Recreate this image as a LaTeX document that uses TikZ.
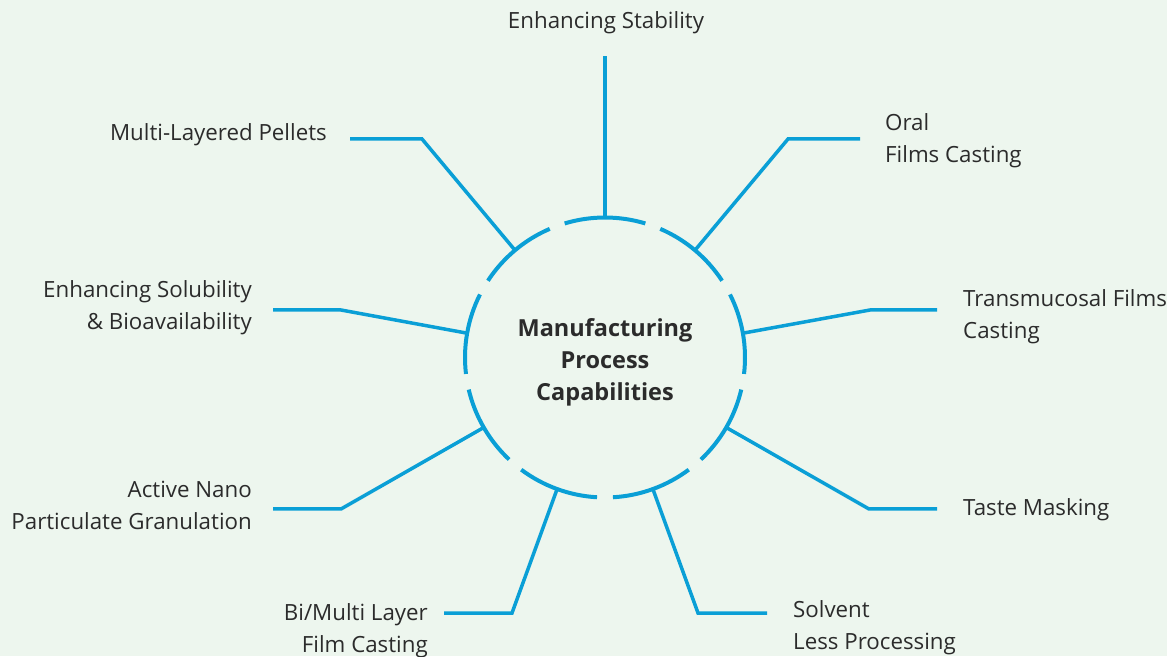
\documentclass[tikz,border=0pt]{standalone}
\usepackage{fontspec}
\setmainfont{Open Sans}[Ligatures=NoCommon]
\usepackage{xcolor}
\usetikzlibrary{positioning}
\definecolor{bgmint}{HTML}{EDF6EE}
\definecolor{spokeblue}{HTML}{0A9FD6}
\definecolor{inkgray}{HTML}{2B2B2B}
\tikzset{
  ring/.style={spokeblue,line width=4pt},
  spoke/.style={spokeblue,line width=3.5pt,line join=miter},
  lbl/.style={font=\fontsize{22.3}{32}\selectfont,text=inkgray,inner sep=0pt},
}

\begin{document}
\begin{tikzpicture}[x=1pt,y=1pt]
\fill[bgmint](0,0)rectangle(1167,656);
\useasboundingbox(0,0)rectangle(1167,656);
\node[circle,minimum size=280pt,inner sep=0pt,outer sep=0pt](hub)at(605,298.5){};
\node[align=center,text=inkgray,inner sep=0pt,font=\fontsize{23.5}{32}\selectfont\bfseries]
  (title)at([yshift=-4.5pt]hub.center){Manufacturing\\Process\\Capabilities};
\foreach \a in {90,50,...,-230}
  \draw[ring]([shift={({\a-16.75}:140)}]hub.center)arc[start angle=\a-16.75,end angle=\a+16.75,radius=140];
% labels
\node[lbl](stab)at(606,633){Enhancing Stability};
\node[lbl,anchor=west,align=left](oral)at(885,515){Oral\\Films Casting};
\node[lbl,anchor=west,align=left](trans)at(963,339){Transmucosal Films\\Casting};
\node[lbl,anchor=west](taste)at(963,146){Taste Masking};
\node[lbl,anchor=west,align=left](solvent)at(793,28){Solvent\\Less Processing};
\node[lbl,anchor=east,align=right](bilayer)at(428,25){Bi/Multi Layer\\Film Casting};
\node[lbl,anchor=east,align=right](nano)at(252,151){Active Nano\\Particulate Granulation};
\node[lbl,anchor=east,align=right](solub)at(252,348.5){Enhancing Solubility\\\& Bioavailability};
\node[lbl,anchor=east](pellets)at(327,521){Multi-Layered Pellets};
% spoke ends
\coordinate(stabend)at(605,600);
\coordinate(oralend)at(860,517);
\coordinate(transend)at(937,346);
\coordinate(tasteend)at(937,147);
\coordinate(solventend)at(767,43);
\coordinate(bilayerend)at(444,43);
\coordinate(nanoend)at(273,147);
\coordinate(solubend)at(273,346);
\coordinate(pelletsend)at(350,517);
\draw[spoke](hub.90)--(stabend);
\draw[spoke](hub.50)--(788,517)--(oralend);
\draw[spoke](hub.10)--(870,346)--(transend);
\draw[spoke](hub.-30)--(869,147)--(tasteend);
\draw[spoke](hub.-70)--(698,43)--(solventend);
\draw[spoke](hub.-110)--(512,43)--(bilayerend);
\draw[spoke](hub.-150)--(341,147)--(nanoend);
\draw[spoke](hub.170)--(341,346)--(solubend);
\draw[spoke](hub.130)--(422,517)--(pelletsend);
\end{tikzpicture}
\end{document}
